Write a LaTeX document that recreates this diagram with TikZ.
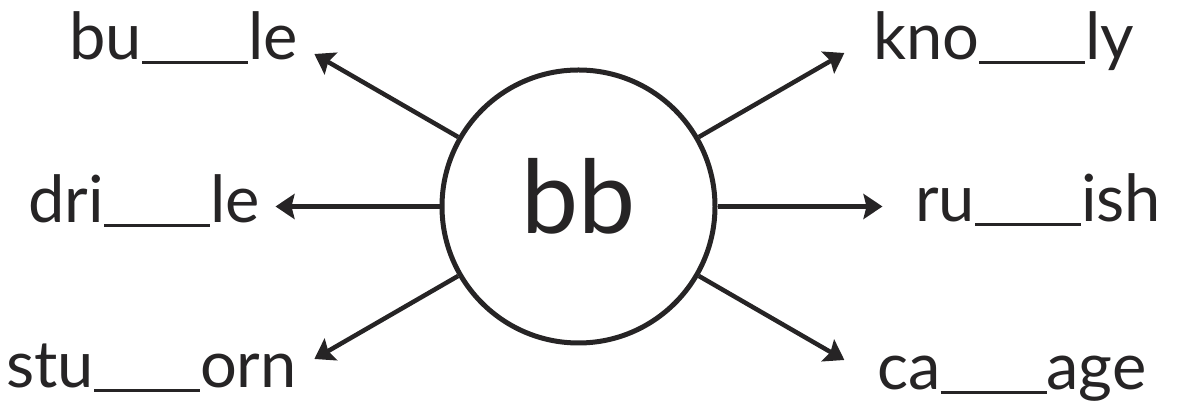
\documentclass[tikz,border=0pt]{standalone}
\usepackage{fontspec}
\setmainfont{Lato}
\usepackage{xcolor}
\usetikzlibrary{arrows.meta,calc}
\definecolor{ink}{HTML}{262425}
\newcommand{\gapline}{\rule[-4pt]{106pt}{3pt}}
\tikzset{
  hubnode/.style={draw=ink, circle, line width=5pt, minimum size=273pt,
    inner sep=0pt, text=ink, font=\fontsize{102}{102}\selectfont,
    text height=72pt, text depth=18pt},
  wordleft/.style={anchor=base east, inner sep=0pt, text=ink,
    font=\fontsize{65}{65}\selectfont},
  wordright/.style={wordleft, anchor=base west},
  pointer/.style={-{Stealth[length=19pt, width=25pt, inset=3pt]},
    draw=ink, line width=4.5pt},
}

\begin{document}
\begin{tikzpicture}[x=1pt, y=1pt]
    \useasboundingbox (0,0) rectangle (1179,403);
    \node[hubnode] (centre) at (578.5,196.5) {bb};
    % tips of the arrows
    \coordinate (tipBu) at ($(centre.center)+(150:305)$);
    \coordinate (tipDri) at ($(centre.center)+(180:303)$);
    \coordinate (tipStu) at ($(centre.center)+(210:305)$);
    \coordinate (tipKno) at ($(centre.center)+(30:307)$);
    \coordinate (tipRu) at ($(centre.center)+(0:304)$);
    \coordinate (tipCa) at ($(centre.center)+(-30:307)$);
    \draw[pointer] (centre.150) -- (tipBu);
    \draw[pointer] (centre.180) -- (tipDri);
    \draw[pointer] (centre.210) -- (tipStu);
    \draw[pointer] (centre.30) -- (tipKno);
    \draw[pointer] (centre.0) -- (tipRu);
    \draw[pointer] (centre.-30) -- (tipCa);
    % words
    \node[wordleft] (bu) at (298,343) {bu\gapline le};
    \node[wordleft] (dri) at (260,180) {dri\gapline le};
    \node[wordleft] (stu) at (297,15) {stu\gapline orn};
    \node[wordright] (kno) at (873,343) {kno\gapline ly};
    \node[wordright] (ru) at (915,181) {ru\gapline ish};
    \node[wordright] (ca) at (877,13) {ca\gapline age};
  \end{tikzpicture}
\end{document}
